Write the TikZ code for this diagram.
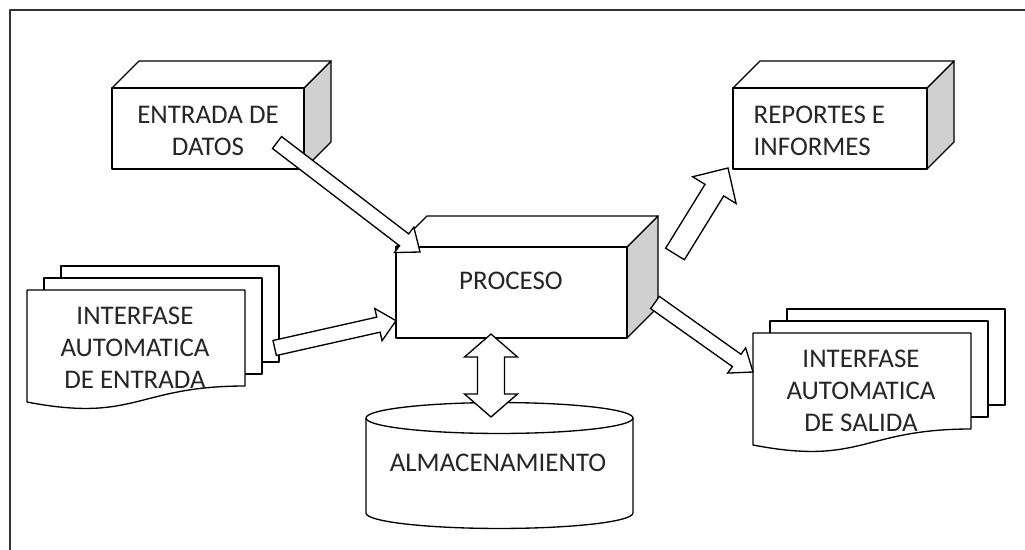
\documentclass[tikz,border=0pt]{standalone}
\usepackage{fontspec}
\setmainfont{Carlito}
\usetikzlibrary{calc}
\definecolor{gris}{RGB}{208,208,208}
\tikzset{
  texto/.style={font=\fontsize{20.2}{24}\selectfont, text=black!85, inner sep=0pt},
  flecha/.style={fill=white, line join=miter}
}
% flecha de bloque: origen, destino, medio cuerpo, media punta, largo punta (px)
\newcommand{\flecha}[5]{%
  \pgfmathsetmacro\fa{0.75*#3}
  \pgfmathsetmacro\fb{0.75*veclen(#5,#3)}
  \pgfmathsetmacro\fc{atan2(#3,#5)}
  \pgfmathsetmacro\fd{0.75*veclen(#5,#4)}
  \pgfmathsetmacro\fe{atan2(#4,#5)}
  \draw[flecha] ($(#1)!\fa pt!90:(#2)$) -- ($(#2)!\fb pt!-\fc:(#1)$) -- ($(#2)!\fd pt!-\fe:(#1)$)
    -- (#2) -- ($(#2)!\fd pt!\fe:(#1)$) -- ($(#2)!\fb pt!\fc:(#1)$) -- ($(#1)!\fa pt!-90:(#2)$) -- cycle;}
\newcommand{\flechadoble}[5]{%
  \pgfmathsetmacro\fb{0.75*veclen(#5,#3)}
  \pgfmathsetmacro\fc{atan2(#3,#5)}
  \pgfmathsetmacro\fd{0.75*veclen(#5,#4)}
  \pgfmathsetmacro\fe{atan2(#4,#5)}
  \draw[flecha] (#1) -- ($(#1)!\fd pt!\fe:(#2)$) -- ($(#1)!\fb pt!\fc:(#2)$) -- ($(#2)!\fb pt!-\fc:(#1)$)
    -- ($(#2)!\fd pt!-\fe:(#1)$) -- (#2) -- ($(#2)!\fd pt!\fe:(#1)$) -- ($(#2)!\fb pt!\fc:(#1)$)
    -- ($(#1)!\fb pt!-\fc:(#2)$) -- ($(#1)!\fd pt!-\fe:(#2)$) -- cycle;}
\begin{document}
\begin{tikzpicture}[x=0.75pt, y=-0.75pt, line width=1pt, line join=round]
  \clip (0,0) rectangle (1025,550);
  \draw[line width=1.3pt, black!80] (10,10) rectangle (1040,560);
  % cajas en 3D
  \foreach \x/\y/\w/\h/\d in {112/88/192/81/27, 733/88/194/81/27, 396/247/231/91/31}{
    \draw[fill=gris] (\x+\w,\y) -- ++(\d,-\d) -- ++(0,\h) -- ++(-\d,\d) -- cycle;
    \draw[fill=white] (\x,\y) -- ++(\d,-\d) -- ++(\w,0) -- ++(-\d,\d) -- cycle;
    \draw[fill=white] (\x,\y) rectangle ++(\w,\h);}
  % documentos multiples
  \foreach \x/\y in {27/290, 753/333}{
    \draw[fill=white] (\x+34,\y-24) rectangle ++(218,96);
    \draw[fill=white] (\x+17,\y-12) rectangle ++(218,96);
    \draw[fill=white] (\x,\y) -- ++(218,0) -- ++(0,96)
      .. controls (\x+109,\y+96) and (\x+109,\y+133) .. (\x,\y+112) -- cycle;}
  % cilindro
  \draw[fill=white] (366,418) -- (366,513) arc[start angle=180, end angle=360, x radius=100.1pt, y radius=11.6pt] -- (633,418);
  \draw[fill=white] (499.5,418) ellipse [x radius=100.1pt, y radius=11.6pt];
  % textos
  \node[texto, align=center] (datos) at (208,131) {ENTRADA DE\\DATOS};
  \node[texto, align=left, anchor=west] (reportes) at (753,131) {REPORTES E\\INFORMES};
  \node[texto] (proceso) at (511,281) {PROCESO};
  \node[texto, align=center] (entrada) at (135,348) {INTERFASE\\AUTOMATICA\\DE ENTRADA};
  \node[texto, align=center] (salida) at (861,391) {INTERFASE\\AUTOMATICA\\DE SALIDA};
  \node[texto] (almacen) at (498,463) {ALMACENAMIENTO};
  % flechas
  \path
  (277,142.5)coordinate(d1) (420,252)coordinate(p1)
  (274.7,348)coordinate(e1) (396,320.7)coordinate(p2)
  (675,254)coordinate(p3) (728,168)coordinate(r1)
  (655,302.5)coordinate(p4) (753,372)coordinate(s1)
  (491,334)coordinate(p5) (491,417)coordinate(a1)
  ;
  \flecha{d1}{p1}{7.5}{16}{20}
  \flecha{e1}{p2}{7.7}{16.5}{18}
  \flecha{p3}{r1}{11}{25.5}{26}
  \flecha{p4}{s1}{7.5}{15.5}{20}
  \flechadoble{p5}{a1}{13.5}{26.5}{23}
\end{tikzpicture}
\end{document}
